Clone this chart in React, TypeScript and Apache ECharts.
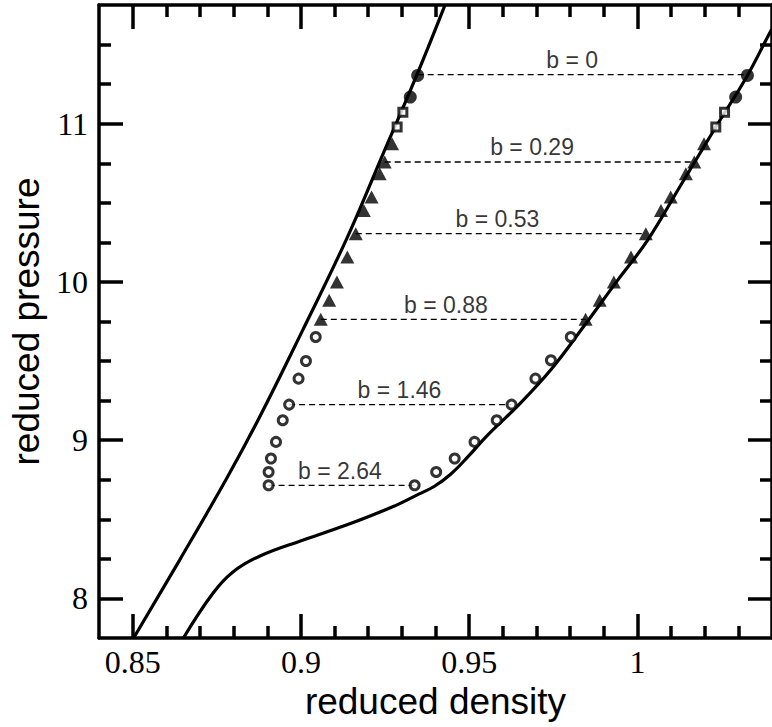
import React, { useEffect, useRef } from "react";
import * as echarts from "echarts";

// Axis tick values
const xMajorTicks = [0.85, 0.9, 0.95, 1];
const xMinorTicks = [0.86, 0.87, 0.88, 0.89, 0.91, 0.92, 0.93, 0.94, 0.96, 0.97, 0.98, 0.99, 1.01, 1.02, 1.03];
const yMajorTicks = [8, 9, 10, 11];
const yMinorTicks = [8.25, 8.5, 8.75, 9.25, 9.5, 9.75, 10.25, 10.5, 10.75, 11.25, 11.5];

// Solid curves [density, pressure]
const leftCurve = [
  [0.8502, 7.747], [0.864, 8.244], [0.8778, 8.753], [0.8877, 9.145], [0.9005, 9.694],
  [0.9138, 10.282], [0.9241, 10.793], [0.9344, 11.305], [0.9429, 11.754],
];
const rightCurve = [
  [0.865, 7.747], [0.8738, 8.031], [0.8798, 8.167], [0.8877, 8.267], [0.9005, 8.368],
  [0.9133, 8.462], [0.9271, 8.578], [0.935, 8.659], [0.9397, 8.709], [0.9445, 8.785],
  [0.9498, 8.899], [0.9557, 9.037], [0.9646, 9.22], [0.9744, 9.448], [0.9843, 9.726],
  [0.9941, 10.01], [1.003, 10.263], [1.0131, 10.619], [1.0233, 10.979], [1.0327, 11.305],
  [1.0392, 11.569], [1.0401, 11.6],
];

// Markers
const filledCircles = [
  [0.9347, 11.305], [0.9325, 11.168], [1.0327, 11.305], [1.0292, 11.168],
];
const openSquares = [
  [0.9303, 11.073], [0.9286, 10.979], [1.0259, 11.073], [1.0233, 10.979],
];
const triangles = [
  [0.9271, 10.874], [0.9249, 10.758], [0.9234, 10.684], [0.921, 10.536], [0.9187, 10.452],
  [0.9163, 10.305], [0.9138, 10.157], [0.9107, 9.999], [0.9084, 9.884], [0.9059, 9.764],
  [1.0198, 10.874], [1.0169, 10.758], [1.0144, 10.684], [1.0099, 10.536], [1.007, 10.452],
  [1.0025, 10.305], [0.9981, 10.157], [0.993, 9.999], [0.9888, 9.884], [0.9846, 9.764],
];
const openCircles = [
  [0.9044, 9.652], [0.9015, 9.5], [0.8993, 9.389], [0.8965, 9.225], [0.8946, 9.126],
  [0.8926, 8.989], [0.8911, 8.884], [0.8904, 8.799], [0.8904, 8.715],
  [0.9802, 9.652], [0.9743, 9.505], [0.9697, 9.389], [0.9626, 9.225], [0.9582, 9.126],
  [0.9516, 8.989], [0.9457, 8.884], [0.9402, 8.799], [0.9338, 8.715],
];

// Tie lines
const tieLabels = ["b = 0", "b = 0.29", "b = 0.53", "b = 0.88", "b = 1.46", "b = 2.64"];
const tieY = [11.31, 10.758, 10.305, 9.764, 9.225, 8.715];
const tieXLeft = [0.9347, 0.9249, 0.9163, 0.9059, 0.8965, 0.8904];
const tieXRight = [1.0327, 1.0169, 1.0025, 0.9846, 0.9626, 0.9338];
const tieLabelX = [0.9806, 0.9687, 0.9584, 0.9431, 0.9293, 0.9116];

const SERIF = "Liberation Serif";
const SANS = "Liberation Sans";
const LW = 3.5;

function xAxisDef(position: string, ticks: number[], len: number, line: boolean, labels: boolean, name?: string) {
  return {
    type: "value",
    position,
    min: 0.84,
    max: 1.04,
    name: name || "",
    nameLocation: "middle",
    nameGap: 45,
    nameTextStyle: { fontFamily: SANS, fontSize: 37, color: "#000" },
    axisLine: { show: line, onZero: false, lineStyle: { color: "#000", width: LW } },
    axisTick: { show: true, inside: true, length: len, customValues: ticks, lineStyle: { color: "#000", width: LW } },
    axisLabel: labels
      ? { show: true, customValues: ticks, fontFamily: SERIF, fontSize: 32, color: "#000", margin: 8 }
      : { show: false },
    splitLine: { show: false },
  };
}

function yAxisDef(position: string, ticks: number[], len: number, line: boolean, labels: boolean, name?: string) {
  return {
    type: "value",
    position,
    min: 7.75,
    max: 11.75,
    name: name || "",
    nameLocation: "middle",
    nameGap: 50,
    nameTextStyle: { fontFamily: SANS, fontSize: 37, color: "#000" },
    axisLine: { show: line, onZero: false, lineStyle: { color: "#000", width: LW } },
    axisTick: { show: true, inside: true, length: len, customValues: ticks, lineStyle: { color: "#000", width: LW } },
    axisLabel: labels
      ? { show: true, customValues: ticks, fontFamily: SERIF, fontSize: 32, color: "#000", margin: 11 }
      : { show: false },
    splitLine: { show: false },
  };
}

export default function App() {
  const ref = useRef<HTMLDivElement>(null);
  useEffect(() => {
    if (!ref.current) return;
    const chart = echarts.init(ref.current, null, { renderer: "svg" });
    const tieSeries = tieLabels.map((_, i) => ({
      type: "line",
      data: [[tieXLeft[i], tieY[i]], [tieXRight[i], tieY[i]]],
      symbol: "none",
      lineStyle: { color: "#000", width: 1.3, type: [6, 4] },
      z: 3,
      silent: true,
    }));
    const option = {
      animation: false,
      backgroundColor: "#fff",
      grid: { left: 99, right: -3, top: 5, bottom: 89, containLabel: false },
      xAxis: [
        xAxisDef("bottom", xMajorTicks, 24, true, true, "reduced density"),
        xAxisDef("bottom", xMinorTicks, 12, false, false),
        xAxisDef("top", xMajorTicks, 24, true, false),
        xAxisDef("top", xMinorTicks, 12, false, false),
      ],
      yAxis: [
        yAxisDef("left", yMajorTicks, 24, true, true, "reduced pressure"),
        yAxisDef("left", yMinorTicks, 12, false, false),
        yAxisDef("right", yMajorTicks, 24, true, false),
        yAxisDef("right", yMinorTicks, 12, false, false),
      ],
      series: [
        {
          type: "line",
          data: leftCurve,
          symbol: "none",
          smooth: 0.4,
          lineStyle: { color: "#000", width: 3.2 },
          z: 2,
        },
        {
          type: "line",
          data: rightCurve,
          symbol: "none",
          smooth: 0.4,
          lineStyle: { color: "#000", width: 3.2 },
          z: 2,
        },
        ...tieSeries,
        {
          type: "scatter",
          data: tieLabels.map((t, i) => ({ value: [tieLabelX[i], tieY[i]], name: t })),
          symbolSize: 0,
          label: {
            show: true,
            position: "top",
            distance: 3,
            formatter: (p: any) => p.name,
            fontFamily: SANS,
            fontSize: 23,
            color: "#000",
          },
          z: 4,
          silent: true,
        },
        {
          type: "scatter",
          data: filledCircles,
          symbol: "circle",
          symbolSize: 13,
          itemStyle: { color: "#000" },
          z: 5,
        },
        {
          type: "scatter",
          data: openSquares,
          symbol: "rect",
          symbolSize: 8,
          itemStyle: { color: "#fff", borderColor: "#000", borderWidth: 3 },
          z: 5,
        },
        {
          type: "scatter",
          data: triangles,
          symbol: "triangle",
          symbolSize: [14, 13],
          itemStyle: { color: "#000" },
          z: 5,
        },
        {
          type: "scatter",
          data: openCircles,
          symbol: "circle",
          symbolSize: 9,
          itemStyle: { color: "#fff", borderColor: "#000", borderWidth: 3 },
          z: 5,
        },
      ],
    };
    chart.setOption(option as any);
    return () => chart.dispose();
  }, []);
  return (
    <div
      ref={ref}
      style={{ position: "fixed", left: 0, top: 0, width: 772, height: 727, background: "#fff" }}
    />
  );
}
